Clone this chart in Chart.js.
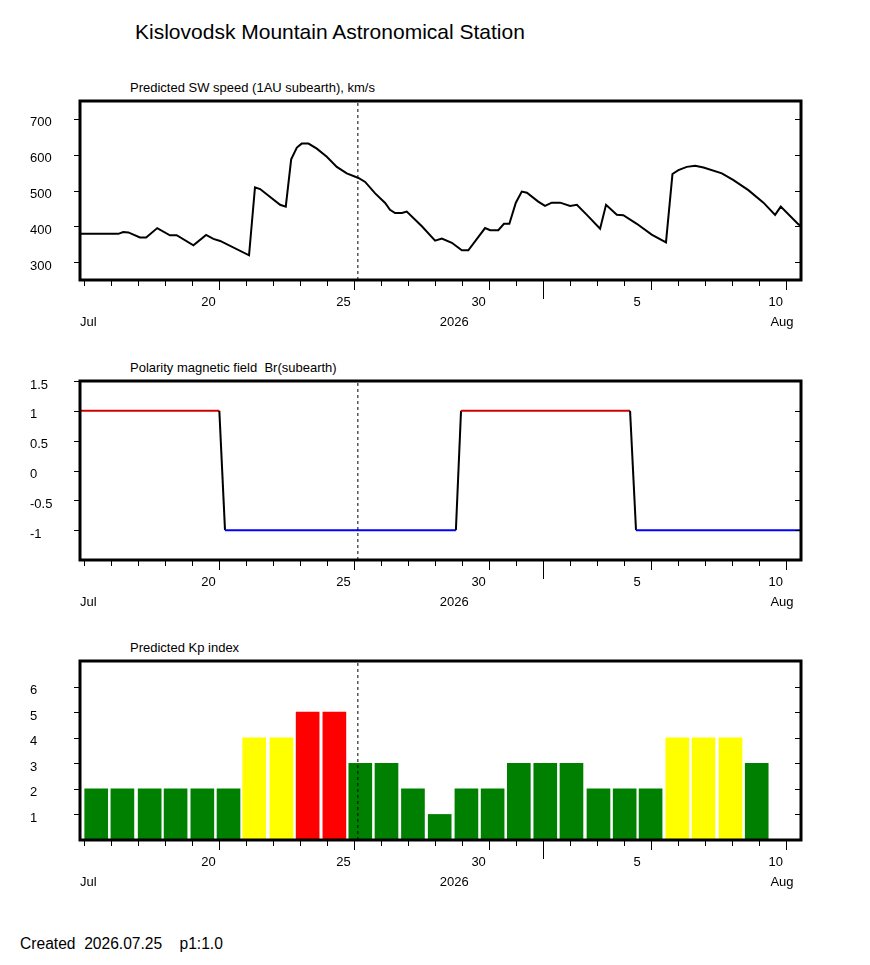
<!DOCTYPE html>
<html>
<head>
<meta charset="utf-8">
<script src="https://cdn.jsdelivr.net/npm/chart.js@4.4.1/dist/chart.umd.min.js"></script>
<style>
  body { margin: 0; background: #fff; }
  #page { position: relative; width: 870px; height: 965px; background: #fff; font-family: "Liberation Sans", Arial, sans-serif; color: #000; }
  .txt { position: absolute; white-space: pre; line-height: 1; }
  canvas { position: absolute; left: 0; }
</style>
</head>
<body>
<div id="page">
  <div class="txt" style="left:135px; top:21px; font-size:21px;">Kislovodsk Mountain Astronomical Station</div>
  <div class="txt" style="left:130px; top:81px; font-size:13px;">Predicted SW speed (1AU subearth), km/s</div>
  <div class="txt" style="left:130px; top:361px; font-size:13px;">Polarity magnetic field  Br(subearth)</div>
  <div class="txt" style="left:130px; top:641px; font-size:13px;">Predicted Kp index</div>
  <div class="txt" style="left:20px; top:936px; font-size:15.6px;">Created  2026.07.25    p1:1.0</div>
  <canvas id="c1" width="870" height="280" style="top:60px"></canvas>
  <canvas id="c2" width="870" height="280" style="top:340px"></canvas>
  <canvas id="c3" width="870" height="280" style="top:620px"></canvas>
</div>
<script>
// days counted from 1 July 2026 (Aug 1 = 32)
var xMin = 14.84;
var xMax = 41.54;
var nowDay = 25.13;
var tickDays = [20, 25, 30, 36, 41];
var tickLabels = ['20', '25', '30', '5', '10'];
var monthStart = 32;
var yearPos = 28.7;

// solar wind speed, km/s
var swDay = [14.84, 16.26, 16.44, 16.63, 17.06, 17.29, 17.70, 18.17, 18.42, 19.04, 19.51, 19.78, 20.03, 21.10,
  21.32, 21.51, 22.25, 22.46, 22.66, 22.87, 23.05, 23.30, 23.61, 23.98, 24.35, 24.72, 25.15, 25.40, 25.77,
  26.14, 26.32, 26.51, 26.76, 26.94, 27.50, 27.99, 28.24, 28.61, 28.98, 29.22, 29.84, 30.03, 30.33, 30.54,
  30.74, 30.98, 31.20, 31.39, 31.81, 32.06, 32.31, 32.62, 32.99, 33.24, 33.61, 34.10, 34.32, 34.72, 34.96,
  35.46, 36.01, 36.54, 36.78, 37.00, 37.31, 37.62, 37.93, 38.61, 39.04, 39.59, 40.15, 40.58, 40.79, 41.44, 41.54];
var swSpeed = [379, 379, 384, 383, 369, 369, 395, 375, 375, 347, 376, 365, 359, 319,
  509, 504, 460, 455, 587, 620, 631, 631, 617, 594, 566, 548, 535, 524, 492,
  465, 446, 437, 437, 441, 400, 360, 366, 354, 333, 333, 395, 389, 389, 407,
  407, 466, 497, 494, 469, 457, 466, 466, 457, 460, 432, 393, 460, 432, 431,
  407, 377, 355, 546, 557, 566, 569, 564, 548, 529, 501, 466, 432, 455, 406, 400];
var swTicks = [300, 400, 500, 600, 700];

// polarity of Br
var polDay = [14.84, 20.00, 20.21, 28.76, 28.95, 35.21, 35.43, 41.54];
var polValue = [1, 1, -1, -1, 1, 1, -1, -1];
var polTicks = [-1, -0.5, 0, 0.5, 1, 1.5];

// Kp index
var kpDay = [15.44, 16.41, 17.42, 18.38, 19.37, 20.34, 21.29, 22.30, 23.27, 24.26, 25.22, 26.19, 27.17,
  28.16, 29.15, 30.12, 31.09, 32.07, 33.04, 34.04, 35.01, 35.97, 36.96, 37.93, 38.93, 39.90];
var kpValue = [2, 2, 2, 2, 2, 2, 4, 4, 5, 5, 3, 3, 2, 1, 2, 2, 3, 3, 3, 2, 2, 2, 4, 4, 4, 3];
var kpTicks = [1, 2, 3, 4, 5, 6];

var fontFamily = '"Liberation Sans", Arial, sans-serif';

function points(xs, ys) {
  var out = [];
  for (var i = 0; i < xs.length; i++) out.push({x: xs[i], y: ys[i]});
  return out;
}

function kpColor(v) {
  if (v >= 5) return '#ff0000';
  if (v >= 4) return '#ffff00';
  return '#008000';
}

var framePlugin = {
  id: 'frame',
  afterDraw: function (chart) {
    var ctx = chart.ctx, a = chart.chartArea;
    var xs = chart.scales.x, ys = chart.scales.y;
    ctx.save();
    ctx.strokeStyle = '#000';
    ctx.lineWidth = 1;
    ctx.beginPath();
    for (var d = Math.ceil(xs.min); d <= xs.max; d++) {
      var px = Math.round(xs.getPixelForValue(d)) + 0.5;
      var len = d === monthStart ? 19 : (tickDays.indexOf(d) >= 0 ? 10 : 6);
      ctx.moveTo(px, a.bottom);
      ctx.lineTo(px, a.bottom + len);
    }
    ys.ticks.forEach(function (t) {
      var py = Math.round(ys.getPixelForValue(t.value)) + 0.5;
      ctx.moveTo(a.left - 6, py);
      ctx.lineTo(a.left, py);
      ctx.moveTo(a.right - 6, py);
      ctx.lineTo(a.right, py);
    });
    ctx.stroke();
    ctx.lineWidth = 3;
    ctx.strokeRect(a.left, a.top, a.right - a.left, a.bottom - a.top);

    ctx.fillStyle = '#000';
    ctx.font = '13px ' + fontFamily;
    ctx.textBaseline = 'middle';
    var y2 = a.bottom + 42;
    ctx.textAlign = 'left';
    ctx.fillText('Jul', a.left, y2);
    ctx.fillText('Aug', xs.getPixelForValue(41) - 16, y2);
    ctx.textAlign = 'center';
    ctx.fillText('2026', xs.getPixelForValue(yearPos), y2);
    ctx.restore();
  }
};

function xScale() {
  return {
    type: 'linear',
    min: xMin,
    max: xMax,
    offset: false,
    afterBuildTicks: function (s) {
      s.ticks = tickDays.map(function (v) { return {value: v}; });
    },
    afterFit: function (s) { s.height = 60; },
    grid: {display: false, offset: false},
    border: {display: false},
    ticks: {
      autoSkip: false,
      maxRotation: 0,
      align: 'start',
      labelOffset: -18,
      padding: 7,
      color: '#000',
      font: {family: fontFamily, size: 13},
      callback: function (v) { return tickLabels[tickDays.indexOf(v)]; }
    }
  };
}

function yScale(min, max, list) {
  return {
    type: 'linear',
    min: min,
    max: max,
    afterBuildTicks: function (s) {
      s.ticks = list.map(function (v) { return {value: v}; });
    },
    afterFit: function (s) { s.width = 50; },
    grid: {display: false},
    border: {display: false},
    ticks: {
      crossAlign: 'far',
      labelOffset: 4,
      color: '#000',
      font: {family: fontFamily, size: 13},
      callback: function (v) { return String(v); }
    }
  };
}

function nowLine(min, max) {
  return {
    type: 'line',
    data: [{x: nowDay, y: min}, {x: nowDay, y: max}],
    borderColor: '#000',
    borderWidth: 1,
    borderDash: [3, 3],
    pointRadius: 0
  };
}

function baseOptions(yMin, yMax, yList) {
  return {
    responsive: false,
    animation: false,
    events: [],
    layout: {padding: {left: 30, right: 69, top: 41, bottom: 0}},
    plugins: {legend: {display: false}, tooltip: {enabled: false}},
    scales: {x: xScale(), y: yScale(yMin, yMax, yList)}
  };
}

new Chart(document.getElementById('c1'), {
  type: 'line',
  data: {
    datasets: [
      nowLine(250, 750),
      {
        data: points(swDay, swSpeed),
        borderColor: '#000',
        borderWidth: 2,
        pointRadius: 0,
        tension: 0
      }
    ]
  },
  options: baseOptions(250, 750, swTicks),
  plugins: [framePlugin]
});

new Chart(document.getElementById('c2'), {
  type: 'line',
  data: {
    datasets: [
      nowLine(-1.5, 1.5),
      {
        data: points(polDay, polValue),
        borderWidth: 2,
        pointRadius: 0,
        segment: {
          borderColor: function (c) {
            var a = c.p0.parsed.y, b = c.p1.parsed.y;
            if (a > 0 && b > 0) return '#d00000';
            if (a < 0 && b < 0) return '#0000ff';
            return '#000';
          }
        }
      }
    ]
  },
  options: baseOptions(-1.5, 1.5, polTicks),
  plugins: [framePlugin]
});

new Chart(document.getElementById('c3'), {
  type: 'bar',
  data: {
    datasets: [
      nowLine(0, 7),
      {
        type: 'bar',
        data: points(kpDay, kpValue),
        backgroundColor: kpValue.map(kpColor),
        borderWidth: 0,
        barThickness: 23
      }
    ]
  },
  options: baseOptions(0, 7, kpTicks),
  plugins: [framePlugin]
});
</script>
</body>
</html>
